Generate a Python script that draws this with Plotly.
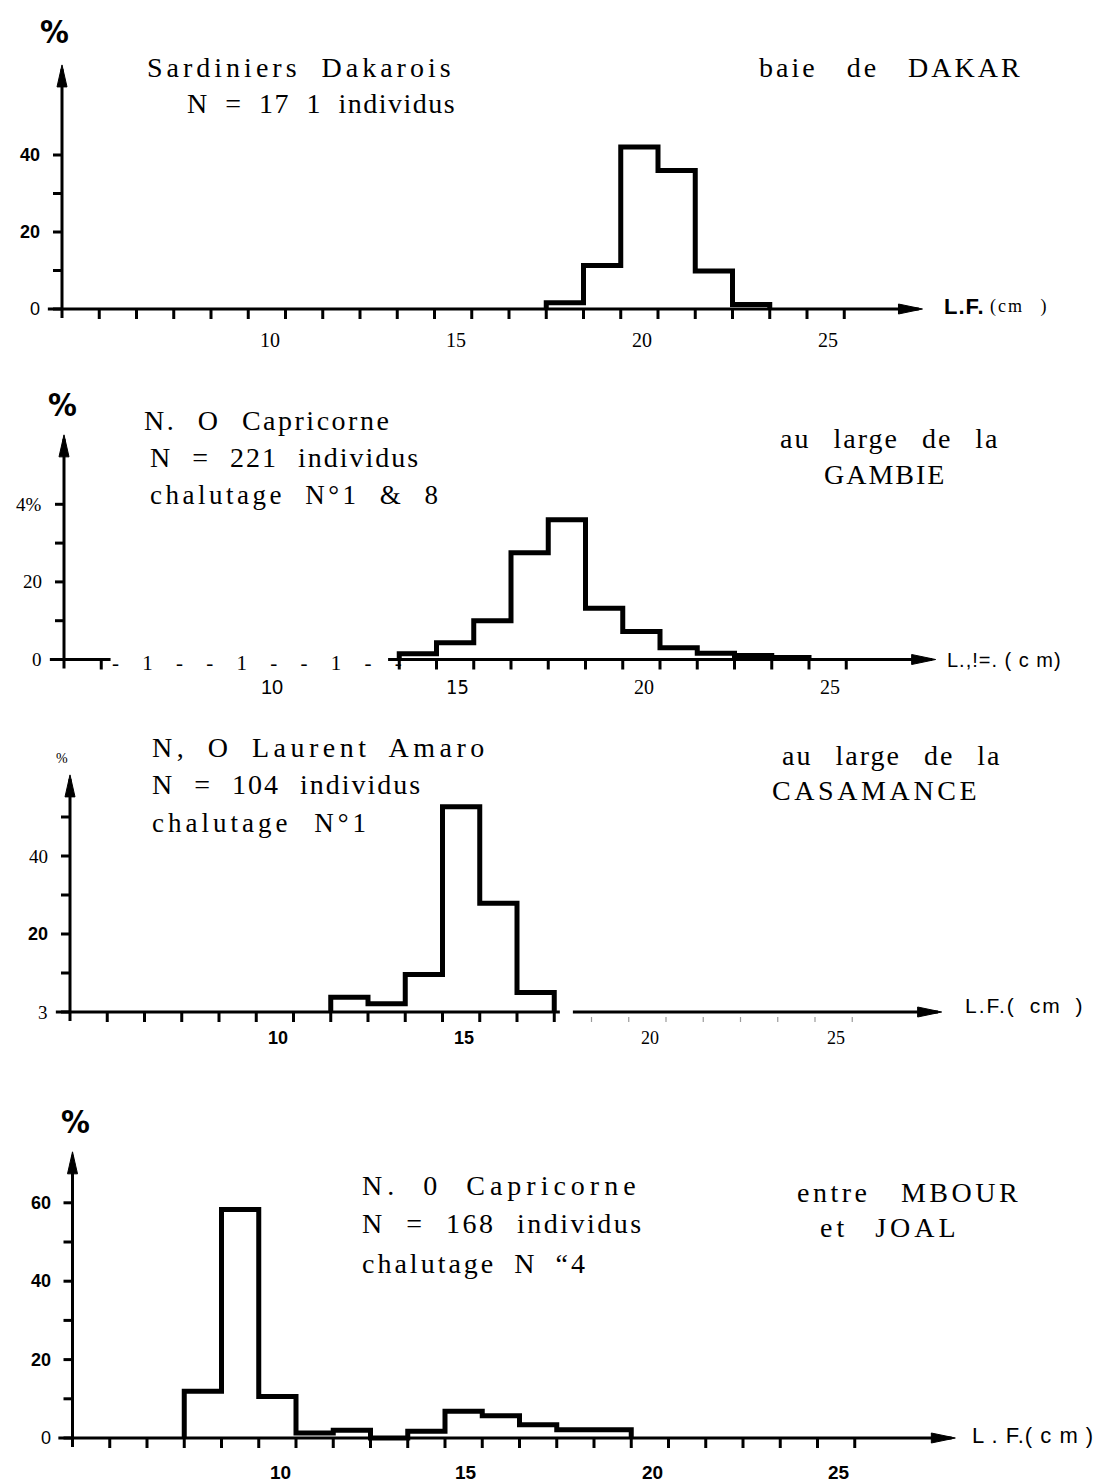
import plotly.graph_objects as go

W, H = 1104, 1482
PX_PER_CM = 37.25

# ---- length-frequency samples: lower bound of each 1 cm class (L.F.) and % of fish
dakar_classes = [17, 18, 19, 20, 21, 22]
dakar_pct = [1.6, 11.3, 42.1, 36.0, 9.9, 1.2]

gambie_classes = [13, 14, 15, 16, 17, 18, 19, 20, 21, 22, 23]
gambie_pct = [1.5, 4.3, 10.0, 27.5, 36.0, 13.2, 7.2, 3.0, 1.6, 1.0, 0.5]

casamance_classes = [11, 12, 13, 14, 15, 16]
casamance_pct = [3.8, 2.1, 9.6, 52.6, 27.9, 5.0]

mbour_classes = [7, 8, 9, 10, 11, 12, 13, 14, 15, 16, 17, 18]
mbour_pct = [11.9, 58.3, 10.6, 1.3, 2.0, 0.0, 1.7, 6.8, 5.7, 3.4, 2.1, 2.1]

# ---- axis ticks and labels
x_tick_vals = list(range(5, 26))
x_label_vals = [10, 15, 20, 25]
x_label_text = ["10", "15", "20", "25"]

dakar_y_ticks = [0, 10, 20, 30, 40]
dakar_y_label_vals = [0, 20, 40]
dakar_y_label_text = ["0", "20", "40"]

gambie_y_ticks = [0, 10, 20, 30, 40]
gambie_y_label_vals = [0, 20, 40]
gambie_y_label_text = ["0", "20", "4%"]

casamance_y_ticks = [0, 10, 20, 30, 40, 50]
casamance_y_label_vals = [0, 20, 40]
casamance_y_label_text = ["3", "20", "40"]

mbour_y_ticks = [0, 10, 20, 30, 40, 50, 60]
mbour_y_label_vals = [0, 20, 40, 60]
mbour_y_label_text = ["0", "20", "40", "60"]

SERIF = "Liberation Serif, Times New Roman, serif"
SANS = "Liberation Sans, Arial, sans-serif"
NARROW = "Liberation Sans Narrow, DejaVu Sans Condensed, Liberation Sans, sans-serif"

# (family, bold, size) for tick lettering
FONTS = {
    "serif": (SERIF, False, 19),
    "sans": (SANS, False, 18),
    "sansb": (SANS, True, 18),
    "narrow": (NARROW, False, 20),
}

# geometry of each frame, in pixels
panels = [
    dict(classes=dakar_classes, pct=dakar_pct, origin=62, band=(0, 355), base=309, ppu=3.85,
         ytop=63.4, tip=27.1, yticks=dakar_y_ticks,
         ylv=dakar_y_label_vals, ylt=dakar_y_label_text, yfont=["sans", "sansb", "sansb"],
         xfont=["serif"] * 4, xsize=20, xgap=31, ticks=x_tick_vals,
         axis_segments=[(3.62, 27.0)], faint_ticks=[]),
    dict(classes=gambie_classes, pct=gambie_pct, origin=64, band=(355, 710), base=659.5, ppu=3.88,
         ytop=57.9, tip=27.4, yticks=gambie_y_ticks,
         ylv=gambie_y_label_vals, ylt=gambie_y_label_text, yfont=["serif"] * 3,
         xfont=["sans", "narrow", "serif", "serif"], xsize=20, xgap=27,
         ticks=[5] + list(range(13, 26)),
         axis_segments=[(3.62, 5.25), (12.7, 27.3)], faint_ticks=[]),
    dict(classes=casamance_classes, pct=casamance_pct, origin=70, band=(710, 1070), base=1012, ppu=3.9,
         ytop=60.8, tip=27.4, yticks=casamance_y_ticks,
         ylv=casamance_y_label_vals, ylt=casamance_y_label_text, yfont=["serif", "sansb", "serif"],
         xfont=["sansb", "sansb", "serif", "serif"], xsize=18, xgap=26,
         ticks=list(range(5, 18)),
         axis_segments=[(3.62, 17.15), (17.5, 27.3)], faint_ticks=list(range(18, 26))),
    dict(classes=mbour_classes, pct=mbour_pct, origin=72.5, band=(1070, 1482), base=1438, ppu=3.92,
         ytop=73.0, tip=27.7, yticks=mbour_y_ticks,
         ylv=mbour_y_label_vals, ylt=mbour_y_label_text, yfont=["sans", "sansb", "sansb", "sansb"],
         xfont=["sansb"] * 4, xsize=19, xgap=34, ticks=x_tick_vals,
         axis_segments=[(3.62, 27.6)], faint_ticks=[]),
]


def step_outline(classes, pct):
    """Histogram outline from class bounds and frequencies."""
    xs, ys = [classes[0]], [0]
    for c, v in zip(classes, pct):
        xs += [c, c + 1]
        ys += [v, v]
    xs.append(classes[-1] + 1)
    ys.append(0)
    return xs, ys


fig = go.Figure()
shapes = []
annotations = []


def text_px(text, x, y, size, family, anchor="left", ls=0.0, ws=0.0, bold=False):
    t = f'<span style="letter-spacing:{ls}px;word-spacing:{ws}px">{text}</span>'
    if bold:
        t = f"<b>{t}</b>"
    annotations.append(dict(text=t, x=x / W, y=1 - y / H, xref="paper", yref="paper",
                            xanchor=anchor, yanchor="middle", showarrow=False,
                            font=dict(size=size, family=family, color="black")))


for i, p in enumerate(panels, start=1):
    xa = "x" if i == 1 else f"x{i}"
    ya = "y" if i == 1 else f"y{i}"
    top, bottom = p["band"]
    x0 = 4 - p["origin"] / PX_PER_CM
    x1 = 4 + (W - p["origin"]) / PX_PER_CM
    y0 = (p["base"] - bottom) / p["ppu"]
    y1 = (p["base"] - top) / p["ppu"]
    axis_common = dict(visible=False, showgrid=False, zeroline=False, fixedrange=True)
    fig.update_layout(**{
        ("xaxis" if i == 1 else f"xaxis{i}"): dict(range=[x0, x1], domain=[0, 1], anchor=ya, **axis_common),
        ("yaxis" if i == 1 else f"yaxis{i}"): dict(range=[y0, y1], domain=[1 - bottom / H, 1 - top / H],
                                                    anchor=xa, **axis_common),
    })

    # length axis line(s) and arrow head
    for a, b in p["axis_segments"]:
        shapes.append(dict(type="line", xref=xa, yref=ya, x0=a, x1=b, y0=0, y1=0,
                           line=dict(color="black", width=3)))
    shapes.append(dict(type="path", xref=xa, yref=ya, xsizemode="pixel", ysizemode="pixel",
                       xanchor=p["tip"], yanchor=0, path="M0,0 L-24,5 L-24,-5 Z",
                       fillcolor="black", line=dict(color="black", width=1)))
    # percentage axis line and arrow head
    shapes.append(dict(type="line", xref=xa, yref=ya, x0=4, x1=4, y0=-9 / p["ppu"],
                       y1=p["ytop"] - 4 / p["ppu"], line=dict(color="black", width=3)))
    shapes.append(dict(type="path", xref=xa, yref=ya, xsizemode="pixel", ysizemode="pixel",
                       xanchor=4, yanchor=p["ytop"], path="M0,0 L-5,-22 L5,-22 Z",
                       fillcolor="black", line=dict(color="black", width=1)))

    # length ticks
    for t in p["ticks"]:
        shapes.append(dict(type="line", xref=xa, yref=ya, ysizemode="pixel", yanchor=0,
                           x0=t, x1=t, y0=1, y1=-10, line=dict(color="black", width=3)))
    for t in p["faint_ticks"]:
        shapes.append(dict(type="line", xref=xa, yref=ya, ysizemode="pixel", yanchor=0,
                           x0=t, x1=t, y0=-5, y1=-10, line=dict(color="#9a9a9a", width=1.2)))
    # percentage ticks
    for t in p["yticks"]:
        shapes.append(dict(type="line", xref=xa, yref=ya, xsizemode="pixel", xanchor=4,
                           x0=0, x1=-9, y0=t, y1=t, line=dict(color="black", width=3)))

    # length tick labels
    for v, s, f in zip(x_label_vals, x_label_text, p["xfont"]):
        fam, bold, _ = FONTS[f]
        annotations.append(dict(text=f"<b>{s}</b>" if bold else s, x=v, y=0, xref=xa, yref=ya,
                                xshift=-16, yshift=-p["xgap"], showarrow=False,
                                xanchor="center", yanchor="middle",
                                font=dict(size=p["xsize"], family=fam, color="black")))
    # percentage tick labels
    for v, s, f in zip(p["ylv"], p["ylt"], p["yfont"]):
        fam, bold, size = FONTS[f]
        annotations.append(dict(text=f"<b>{s}</b>" if bold else s, x=4, y=v, xref=xa, yref=ya,
                                xshift=-20, showarrow=False, xanchor="right", yanchor="middle",
                                font=dict(size=size, family=fam, color="black")))

    # histogram outline
    xs, ys = step_outline(p["classes"], p["pct"])
    fig.add_trace(go.Scatter(x=xs, y=ys, xaxis=xa, yaxis=ya, mode="lines",
                             line=dict(color="black", width=5), hoverinfo="skip",
                             showlegend=False, cliponaxis=False))

# ---- "%" headings of the vertical axes
text_px("%", 54, 32, 32, NARROW, anchor="center", bold=True)
text_px("%", 62, 405, 32, NARROW, anchor="center", bold=True)
text_px("%", 62, 758, 14, SERIF, anchor="center")
text_px("%", 75, 1122, 32, NARROW, anchor="center", bold=True)

# ---- length axis titles
text_px("L.F.", 942, 306, 22, SANS, bold=True, ls=1)
text_px("(cm )", 988, 306, 18, SERIF, ls=2, ws=10)
text_px("L.,!=. ( c m)", 945, 660, 20, SANS, ls=1)
text_px("L.F.( cm )", 963, 1005, 21, SANS, ls=2, ws=6)
text_px("L . F.( c m )", 970, 1435, 22, SANS, ls=1)

# axis lettering left on the second frame
text_px("- 1 - - 1 - - 1 - -", 110, 663, 21, SERIF, ls=2, ws=14)

# ---- sample descriptions
text_px("Sardiniers Dakarois", 145, 68, 28, SERIF, ls=4, ws=10)
text_px("N = 17 1 individus", 185, 103, 28, SERIF, ls=1.5, ws=8)
text_px("baie de DAKAR", 757, 68, 28, SERIF, ls=3, ws=19)

text_px("N. O Capricorne", 142, 420, 28, SERIF, ls=2.5, ws=12)
text_px("N = 221 individus", 148, 458, 28, SERIF, ls=2, ws=11)
text_px("chalutage N°1 & 8", 148, 495, 27, SERIF, ls=3.5, ws=10)
text_px("au large de la", 778, 438, 28, SERIF, ls=2, ws=14)
text_px("GAMBIE", 885, 475, 28, SERIF, anchor="center", ls=2)

text_px("N, O Laurent Amaro", 150, 747, 28, SERIF, ls=4.5, ws=8)
text_px("N = 104 individus", 150, 785, 28, SERIF, ls=2, ws=11)
text_px("chalutage N°1", 150, 823, 27, SERIF, ls=4, ws=12)
text_px("au large de la", 780, 755, 28, SERIF, ls=2, ws=14)
text_px("CASAMANCE", 770, 790, 28, SERIF, ls=3.6)

text_px("N. 0 Capricorne", 360, 1185, 28, SERIF, ls=5, ws=12)
text_px("N = 168 individus", 360, 1223, 28, SERIF, ls=2.5, ws=12)
text_px("chalutage N “4", 360, 1263, 28, SERIF, ls=3, ws=8)
text_px("entre MBOUR", 795, 1192, 28, SERIF, ls=3.5, ws=20)
text_px("et JOAL", 818, 1227, 28, SERIF, ls=4, ws=16)

fig.update_layout(
    width=W, height=H, margin=dict(l=0, r=0, t=0, b=0),
    paper_bgcolor="white", plot_bgcolor="white",
    shapes=shapes, annotations=annotations, showlegend=False,
)

fig.write_html("out.html", config={"displayModeBar": False})
